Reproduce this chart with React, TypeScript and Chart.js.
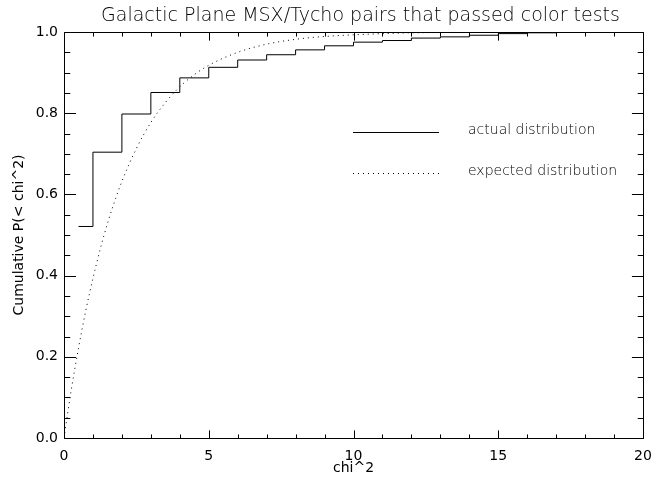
import React, { useEffect, useRef } from "react";
import { Chart, registerables } from "chart.js";

Chart.register(...registerables);

const TITLE = "Galactic Plane MSX/Tycho pairs that passed color tests";
const X_TITLE = "chi^2";
const Y_TITLE = "Cumulative P(< chi^2)";
const LEGEND_LABELS = ["actual distribution", "expected distribution"];

// actual (step) distribution: value holds from x until next x
const actualX = [0.5, 1, 2, 3, 4, 5, 6, 7, 8, 9, 10, 11, 12, 13, 14, 15, 16, 17, 18, 19, 20];
const actualY = [0.521, 0.704, 0.798, 0.851, 0.887, 0.913, 0.931, 0.944, 0.956, 0.966, 0.975, 0.979, 0.985, 0.988, 0.992, 0.996, 0.998, 0.999, 1.0, 1.0, 1.0];

// expected distribution (dotted curve)
const expectedX = [0, 0.25, 0.5, 0.75, 1, 1.25, 1.5, 1.75, 2, 2.5, 3, 3.5, 4, 4.5, 5, 6, 7, 8, 9, 10, 12, 14, 16, 18, 20];
const expectedY = [0, 0.118, 0.221, 0.313, 0.393, 0.465, 0.528, 0.583, 0.632, 0.713, 0.777, 0.826, 0.865, 0.895, 0.918, 0.95, 0.97, 0.982, 0.989, 0.993, 0.998, 0.999, 1.0, 1.0, 1.0];

const X_MIN = 0;
const X_MAX = 20;
const Y_MIN = 0;
const Y_MAX = 1;
const xMajorTicks = [0, 5, 10, 15, 20];
const yMajorTicks = [0, 0.2, 0.4, 0.6, 0.8, 1.0];
const X_MINOR_STEP = 1;
const Y_MINOR_STEP = 0.05;

const FONT = "'DejaVu Sans', sans-serif";

const idlPlugin = {
  id: "idlFrame",
  afterDatasetsDraw(chart: any) {
    const ctx = chart.ctx;
    const ca = chart.chartArea;
    const xs = chart.scales.x;
    const ys = chart.scales.y;
    const L = Math.round(ca.left) + 0.5;
    const R = Math.round(ca.right) + 0.5;
    const T = Math.round(ca.top) + 0.5;
    const B = Math.round(ca.bottom) + 0.5;
    ctx.save();
    ctx.strokeStyle = "#000";
    ctx.lineWidth = 1;
    ctx.setLineDash([]);
    ctx.beginPath();
    ctx.rect(L, T, R - L, B - T);
    ctx.stroke();

    const h = B - T;
    const w = R - L;
    const xMajLen = 0.02 * h;
    const yMajLen = 0.02 * w;
    ctx.beginPath();
    // x ticks (bottom and top)
    for (let v = X_MIN; v <= X_MAX + 1e-9; v += X_MINOR_STEP) {
      const major = xMajorTicks.some((m) => Math.abs(m - v) < 1e-9);
      const len = major ? xMajLen : xMajLen / 2;
      const px = Math.round(xs.getPixelForValue(v)) + 0.5;
      ctx.moveTo(px, B);
      ctx.lineTo(px, B - len);
      ctx.moveTo(px, T);
      ctx.lineTo(px, T + len);
    }
    // y ticks (left and right)
    for (let i = 0; i <= Math.round((Y_MAX - Y_MIN) / Y_MINOR_STEP); i++) {
      const v = Y_MIN + i * Y_MINOR_STEP;
      const major = yMajorTicks.some((m) => Math.abs(m - v) < 1e-9);
      const len = major ? yMajLen : yMajLen / 2;
      const py = Math.round(ys.getPixelForValue(v)) + 0.5;
      ctx.moveTo(L, py);
      ctx.lineTo(L + len, py);
      ctx.moveTo(R, py);
      ctx.lineTo(R - len, py);
    }
    ctx.stroke();

    // legend
    const lx0 = 353;
    const lx1 = 439;
    const tx = 468;
    ctx.font = "200 14px " + FONT;
    ctx.fillStyle = "#000";
    ctx.textBaseline = "alphabetic";
    ctx.textAlign = "left";
    ctx.beginPath();
    ctx.moveTo(lx0, 132.5);
    ctx.lineTo(lx1, 132.5);
    ctx.stroke();
    ctx.fillText(LEGEND_LABELS[0], tx, 134);
    ctx.setLineDash([1, 4]);
    ctx.beginPath();
    ctx.moveTo(lx0, 173.5);
    ctx.lineTo(lx1, 173.5);
    ctx.stroke();
    ctx.setLineDash([]);
    ctx.fillText(LEGEND_LABELS[1], tx, 175);

    // title
    ctx.font = "200 19px " + FONT;
    ctx.textAlign = "center";
    ctx.fillText(TITLE, (ca.left + ca.right) / 2 + 7, 21);
    ctx.restore();
  },
};

export default function App() {
  const ref = useRef<HTMLCanvasElement | null>(null);
  useEffect(() => {
    if (!ref.current) return;
    const chart = new Chart(ref.current, {
      type: "line",
      data: {
        datasets: [
          {
            label: LEGEND_LABELS[0],
            data: actualX.map((x, i) => ({ x, y: actualY[i] })),
            stepped: "before",
            borderColor: "#000",
            borderWidth: 1,
            pointRadius: 0,
            fill: false,
          },
          {
            label: LEGEND_LABELS[1],
            data: expectedX.map((x, i) => ({ x, y: expectedY[i] })),
            borderColor: "#000",
            borderWidth: 1,
            borderDash: [1, 4],
            cubicInterpolationMode: "monotone",
            pointRadius: 0,
            fill: false,
          },
        ],
      },
      options: {
        animation: false,
        responsive: false,
        events: [],
        layout: { padding: { top: 32, right: 10, left: 0, bottom: 0 } },
        plugins: {
          legend: { display: false },
          title: { display: false },
          tooltip: { enabled: false },
        },
        scales: {
          x: {
            type: "linear",
            min: X_MIN,
            max: X_MAX,
            grid: { display: false, drawTicks: false },
            border: { display: false },
            ticks: {
              stepSize: 5,
              padding: 10,
              color: "#000",
              font: { family: FONT, size: 14 },
              maxRotation: 0,
            },
            title: {
              display: true,
              text: X_TITLE,
              color: "#000",
              font: { family: FONT, size: 14 },
              padding: { top: 0, bottom: 7 },
            },
            afterFit(scale: any) {
              scale.height = 46;
              scale.paddingLeft = 0;
              scale.paddingRight = 0;
            },
          },
          y: {
            type: "linear",
            min: Y_MIN,
            max: Y_MAX,
            grid: { display: false, drawTicks: false },
            border: { display: false },
            ticks: {
              stepSize: 0.2,
              padding: 6,
              color: "#000",
              font: { family: FONT, size: 14 },
              callback: (v: any) => Number(v).toFixed(1),
            },
            title: {
              display: true,
              text: Y_TITLE,
              color: "#000",
              font: { family: FONT, size: 14 },
              padding: { top: 11, bottom: 0 },
            },
            afterFit(scale: any) {
              scale.width = 64;
              scale.paddingTop = 0;
              scale.paddingBottom = 0;
            },
          },
        },
      },
      plugins: [idlPlugin],
    });
    return () => chart.destroy();
  }, []);
  return (
    <div style={{ position: "absolute", left: 0, top: 0, width: 653, height: 484, background: "#fff" }}>
      <canvas ref={ref} width={653} height={484} style={{ display: "block" }} />
    </div>
  );
}
